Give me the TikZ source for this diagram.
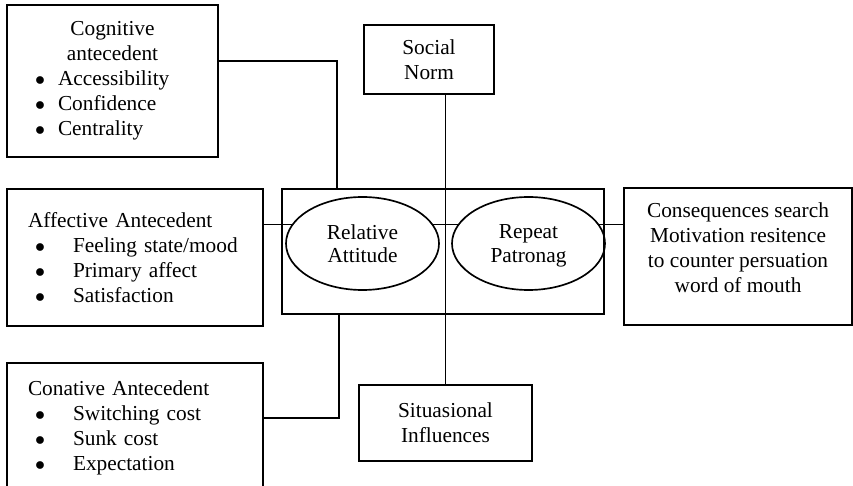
\documentclass[tikz,border=0pt]{standalone}
\usepackage{fontspec}
\setmainfont{Liberation Serif}
\usetikzlibrary{shapes.geometric}
\newcommand{\ctrline}[1]{\makebox[\linewidth]{#1}}
\newcommand{\headline}[2]{\makebox[\linewidth][l]{\hspace*{#1}#2}}
\newcommand{\bul}[3]{\makebox[\linewidth][l]{\hspace*{#1}\makebox[#2][l]{$\bullet$}#3}}
\begin{document}
\begin{tikzpicture}[x=0.6pt,y=-0.6pt,
	box/.style={draw,line width=1.2pt,inner sep=0pt,font=\fontsize{12.8}{15}\selectfont},
	oval/.style={ellipse,draw,line width=1pt,inner sep=0pt,minimum width=91.8pt,minimum height=55.8pt,align=center,font=\fontsize{12.8}{14}\selectfont},
	link/.style={line width=0.8pt}]
		\useasboundingbox (0,0) rectangle (853,486);
		% antecedent boxes
		\draw node at (112.5,81) [box,text width=126.6pt,minimum width=126.6pt,minimum height=91.2pt] (cog) {\ctrline{Cognitive}\\\ctrline{antecedent}\\\bul{16.8pt}{13.8pt}{Accessibility}\\\bul{16.8pt}{13.8pt}{Confidence}\\\bul{16.8pt}{13.8pt}{Centrality}};
		\draw node at (135,257.5) [box,text width=153.6pt,minimum width=153.6pt,minimum height=82.2pt] (aff) {\headline{12.6pt}{Affective Antecedent}\\\bul{16.8pt}{22.8pt}{Feeling state/mood}\\\bul{16.8pt}{22.8pt}{Primary affect}\\\bul{16.8pt}{22.8pt}{Satisfaction}};
		\begin{scope}
		\clip (0,0) rectangle (853,486);
		\draw node at (135,427.5) [box,text width=153.6pt,minimum width=153.6pt,minimum height=77.4pt] (con) {\headline{12.6pt}{Conative Antecedent}\\\bul{16.8pt}{22.8pt}{Switching cost}\\\bul{16.8pt}{22.8pt}{Sunk cost}\\\bul{16.8pt}{22.8pt}{Expectation}};
		\end{scope}
		% other boxes
		\draw node at (429,59.5) [box,align=center,minimum width=78pt,minimum height=41.4pt] (soc) {Social\\Norm};
		\draw node at (445.5,423) [box,align=center,minimum width=103.8pt,minimum height=45.6pt] (sit) {Situasional\\Influences};
		\draw node at (738,256.5) [box,align=center,minimum width=136.8pt,minimum height=82.2pt,text depth=11pt] (cons) {Consequences search\\Motivation resitence\\to counter persuation\\word of mouth};
		% centre
		\draw node at (443,251.5) [draw,line width=0.8pt,inner sep=0pt,minimum width=193.2pt,minimum height=75pt] (frame) {};
		\draw node at (362.5,243.5) [oval] (rel) {Relative\\\smash{Attitude}};
		\draw node at (528.5,243.5) [oval] (rep) {Repeat\\\smash{Patronag}};
		\coordinate (cogbend) at (337,61);
		\coordinate (conbend) at (339,418);
		\draw[link] (cog.east |- cogbend) -- (cogbend) -- (cogbend |- frame.north);
		\draw[link] (aff.east |- rel.165) -- (rel.165);
		\draw[link] (rel.15) -- (rep.165);
		\draw[link] (rep.15) -- (cons.west |- rep.15);
		\draw[link] (con.east |- conbend) -- (conbend) -- (conbend |- frame.south);
		\draw[link] (sit.north |- soc.south) -- (sit.north);
	\end{tikzpicture}
\end{document}
